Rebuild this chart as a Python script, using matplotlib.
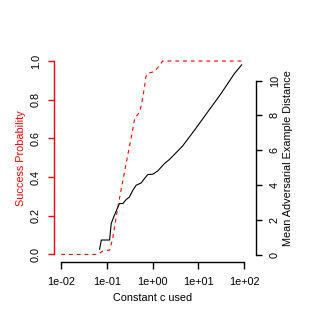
#!/usr/bin/env python3

import matplotlib
matplotlib.use("Agg")
import matplotlib.pyplot as plt

plt.rcParams["font.family"] = ["Liberation Sans", "DejaVu Sans"]
plt.rcParams["font.size"] = 7.8

# success probability vs constant c (red, dashed)
prob_c = [0.01, 0.0631, 0.0813, 0.1156, 0.134, 0.1726, 0.285, 0.348, 0.405,
          0.521, 0.605, 0.670, 0.704, 0.778, 1.0, 1.22, 1.42, 1.65, 92.7]
prob = [0.0, 0.0, 0.018, 0.023, 0.085, 0.245, 0.514, 0.618, 0.705,
        0.736, 0.809, 0.876, 0.917, 0.937, 0.943, 0.959, 0.979, 1.0, 1.0]

# mean adversarial example distance vs constant c (black, solid)
dist_c = [0.069, 0.0752, 0.114, 0.124, 0.141, 0.168, 0.188, 0.222, 0.263,
          0.310, 0.367, 0.435, 0.558, 0.659, 0.778, 1.0, 1.29, 1.80, 2.31,
          4.51, 8.11, 15.8, 30.9, 60.3, 88.0]
dist = [0.33, 0.86, 0.86, 1.81, 2.19, 2.67, 2.95, 2.95, 3.18,
        3.33, 3.71, 4.00, 4.13, 4.38, 4.61, 4.63, 4.82, 5.24, 5.47,
        6.25, 7.14, 8.19, 9.24, 10.38, 10.90]

x_ticks = [1e-2, 1e-1, 1e0, 1e1, 1e2]
x_labels = ["1e-02", "1e-01", "1e+00", "1e+01", "1e+02"]
p_ticks = [0.0, 0.2, 0.4, 0.6, 0.8, 1.0]
p_labels = ["0.0", "0.2", "0.4", "0.6", "0.8", "1.0"]
d_ticks = [0, 2, 4, 6, 8, 10]

fig = plt.figure(figsize=(3.3, 3.3), dpi=100)
ax = fig.add_axes([0.1633, 0.2055, 0.599, 0.633])
ax2 = ax.twinx()

ax.plot(prob_c, prob, color="#ff0000", lw=0.8, linestyle=(0, (3.5, 3.5)))
ax2.plot(dist_c, dist, color="black", lw=0.8)

ax.set_xscale("log")
ax.set_xlim(10 ** -2.16, 10 ** 2.16)
ax.set_ylim(-0.04, 1.04)
ax2.set_ylim(-0.41, 11.56)

for a in (ax, ax2):
    a.patch.set_visible(False)
    for s in a.spines.values():
        s.set_visible(False)
    a.minorticks_off()

ax.spines["left"].set_visible(True)
ax.spines["left"].set_color("#ff0000")
ax.spines["left"].set_linewidth(1.0)
ax.spines["left"].set_bounds(0, 1)
ax.spines["bottom"].set_visible(True)
ax.spines["bottom"].set_linewidth(1.0)
ax.spines["bottom"].set_bounds(1e-2, 1e2)
ax2.spines["right"].set_visible(True)
ax2.spines["right"].set_linewidth(1.0)
ax2.spines["right"].set_bounds(0, 10)
ax2.spines["right"].set_position(("outward", 3.2))

ax.set_xticks(x_ticks)
ax.set_xticklabels(x_labels)
ax.xaxis.set_minor_locator(matplotlib.ticker.NullLocator())
ax.tick_params(axis="x", direction="out", length=5.0, width=1.0, pad=5.5)

ax.set_yticks(p_ticks)
ax.set_yticklabels(p_labels, rotation=90, va="center")
ax.tick_params(axis="y", direction="out", length=4.5, width=1.0, pad=5.0,
               color="#ff0000")

ax2.set_yticks(d_ticks)
ax2.set_yticklabels([str(t) for t in d_ticks], rotation=90, va="center")
ax2.tick_params(axis="y", direction="out", length=4.0, width=1.0, pad=6.0)

ax.set_xlabel("Constant c used")
ax.xaxis.set_label_coords(0.5, -0.147)
ax.set_ylabel("Success Probability", color="#ff0000")
ax.yaxis.set_label_coords(-0.141, 0.5)
ax2.set_ylabel("Mean Adversarial Example Distance")
ax2.yaxis.set_label_coords(1.161, 0.5)

fig.savefig("out.png", dpi=100)
